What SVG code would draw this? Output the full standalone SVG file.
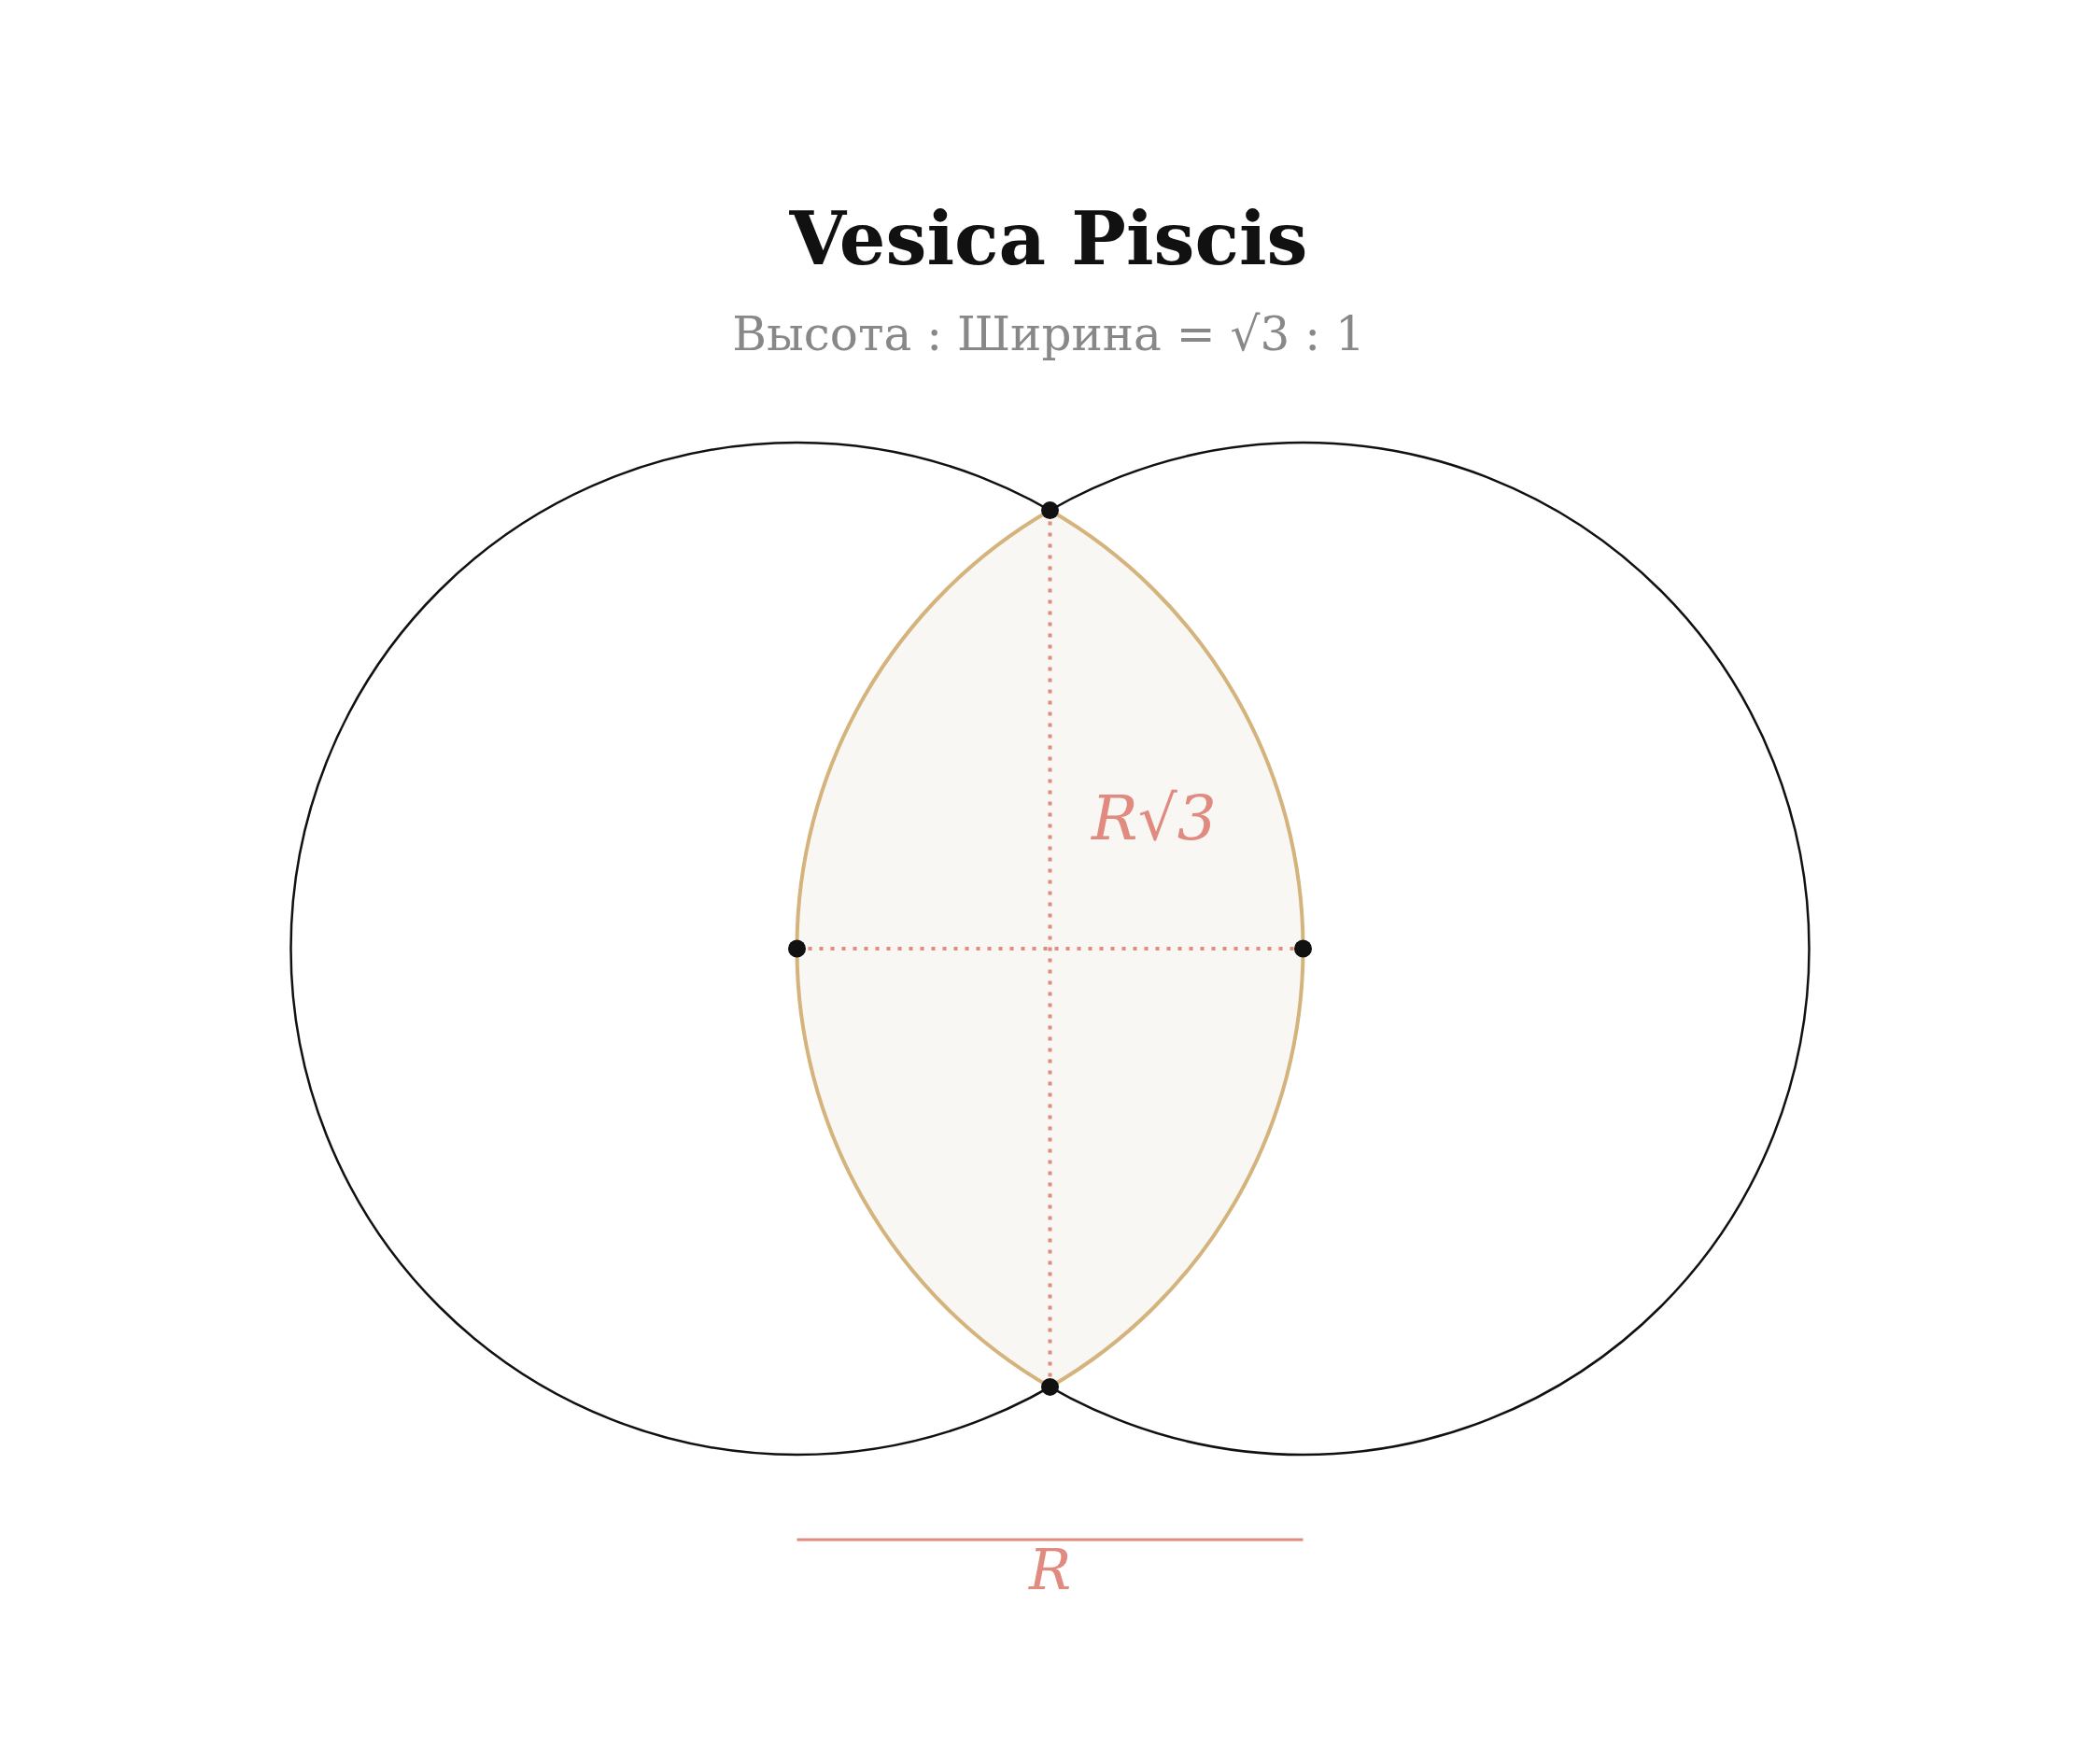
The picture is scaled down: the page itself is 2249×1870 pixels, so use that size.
<svg xmlns="http://www.w3.org/2000/svg" width="2249" height="1870" viewBox="0 0 2249 1870">
  <style>
    .circle { fill: none; stroke: #111111; stroke-width: 2.5; }
    .lens { fill: #f8f7f3; stroke: #d4b47c; stroke-width: 4; }
    .dotted { stroke: #e08a80; stroke-width: 4; stroke-dasharray: 4 8; fill: none; }
    .pt { fill: #111111; }
    .title { font-family: "DejaVu Serif", serif; font-weight: bold; font-size: 78px; fill: #111111; text-anchor: middle; }
    .sub { font-family: "DejaVu Serif", serif; font-size: 50px; fill: #888888; text-anchor: middle; }
    .lbl { font-family: "DejaVu Serif", serif; font-style: italic; fill: #e08a80; }
  </style>
  <rect width="2249" height="1870" fill="#ffffff"/>
  <g id="title">
    <text class="title" x="1123" y="283">Vesica Piscis</text>
    <text class="sub" x="1123" y="375">Высота : Ширина = √3 : 1</text>
  </g>
  <g id="circle-left"><circle class="circle" cx="853.5" cy="1016" r="542"/></g>
  <g id="circle-right"><circle class="circle" cx="1395.5" cy="1016" r="542"/></g>
  <g id="lens"><path class="lens" d="M 1124.5 546.6 A 542 542 0 0 1 1124.5 1485.4 A 542 542 0 0 1 1124.5 546.6 Z"/></g>
  <g id="connectors">
    <line class="dotted" x1="1124.5" y1="546.6" x2="1124.5" y2="1485.4"/>
    <line class="dotted" x1="853.5" y1="1016" x2="1395.5" y2="1016"/>
    <line x1="853.5" y1="1649" x2="1395.5" y2="1649" stroke="#e08a80" stroke-width="3"/>
  </g>
  <g id="points">
    <circle class="pt" cx="1124.5" cy="546.6" r="9.5"/>
    <circle class="pt" cx="1124.5" cy="1485.4" r="9.5"/>
    <circle class="pt" cx="853.5" cy="1016" r="9.5"/>
    <circle class="pt" cx="1395.5" cy="1016" r="9.5"/>
  </g>
  <g id="labels">
    <text class="lbl" x="1169" y="899" font-size="66">R√3</text>
    <text class="lbl" x="1124.5" y="1702" font-size="60" text-anchor="middle">R</text>
  </g>
</svg>
